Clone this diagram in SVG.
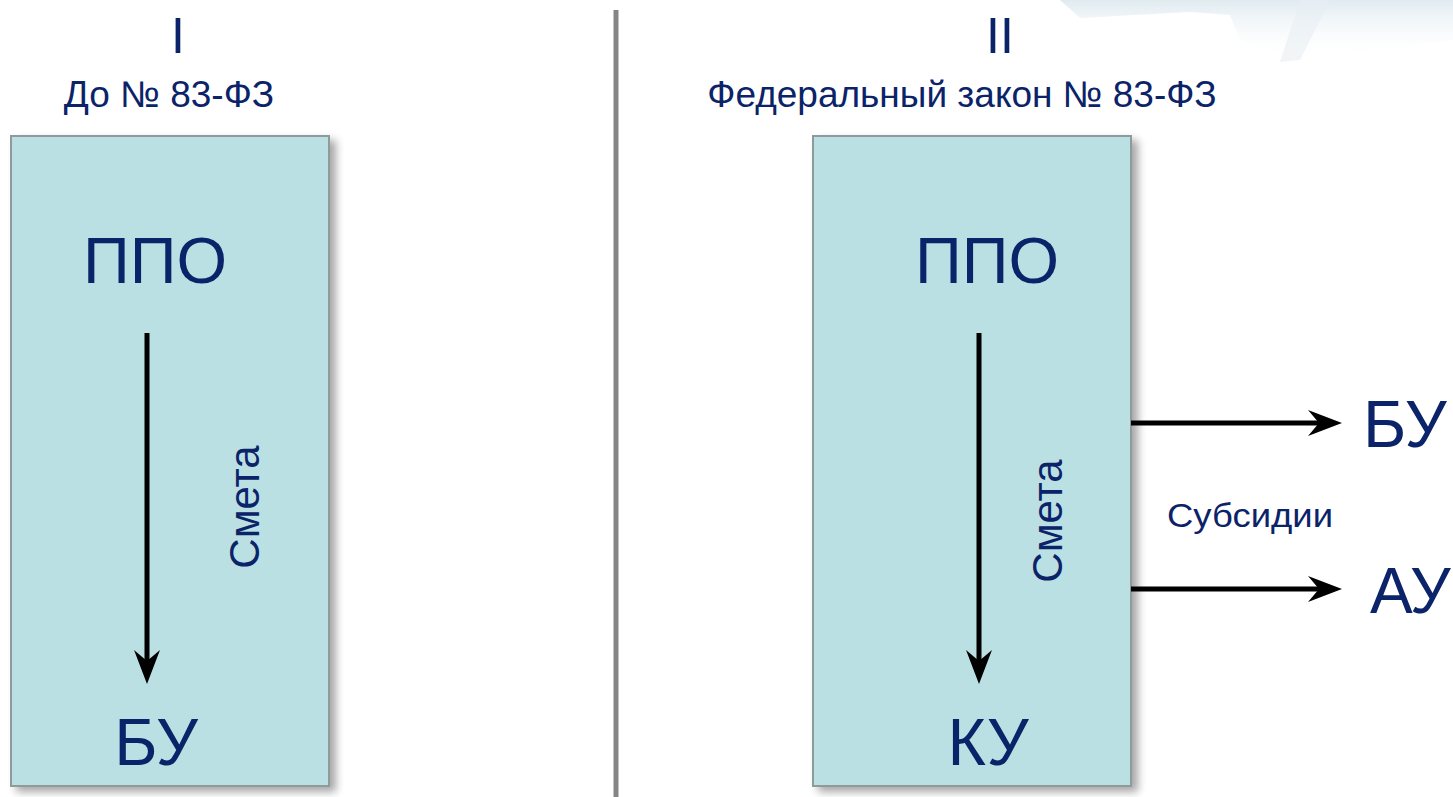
<svg xmlns="http://www.w3.org/2000/svg" width="1453" height="797" viewBox="0 0 1453 797">
<style>
.t{font-family:"Liberation Sans",Arial,sans-serif;fill:#0b2368}
.box{fill:#bae0e3;stroke:#8f9a9b;stroke-width:2}
.ln{stroke:#000;stroke-width:5;fill:none}
</style>
<defs>
<marker id="ah" viewBox="0 0 34 26" refX="20" refY="13" markerWidth="34" markerHeight="26" markerUnits="userSpaceOnUse" orient="auto" overflow="visible">
<path d="M0,0 L34,13 L0,26 L11,13 Z" fill="#000"/>
</marker>
<filter id="sh" x="-10%" y="-10%" width="130%" height="130%">
<feGaussianBlur in="SourceAlpha" stdDeviation="4"/>
<feOffset dx="6" dy="5"/>
<feComponentTransfer><feFuncA type="linear" slope="0.35"/></feComponentTransfer>
<feMerge><feMergeNode/><feMergeNode in="SourceGraphic"/></feMerge>
</filter>
<linearGradient id="deco" x1="0" y1="0" x2="0" y2="1">
<stop offset="0" stop-color="#d2e2ea"/>
<stop offset="1" stop-color="#ffffff" stop-opacity="0"/>
</linearGradient>
</defs>
<rect width="1453" height="797" fill="#fff"/>
<path d="M1060,0 L1453,0 L1453,40 L1300,60 L1240,40 L1230,15 L1190,12 L1080,18 Z" fill="url(#deco)" opacity="0.7"/>
<path d="M1300,0 L1330,0 L1300,60 L1280,62 Z" fill="#e8eff3" opacity="0.6"/>
<line x1="616" y1="10" x2="616" y2="797" stroke="#858585" stroke-width="5"/>
<g id="header1">
<text class="t" x="178" y="53" font-size="50" text-anchor="middle">I</text>
<text class="t" x="169" y="107" font-size="37" text-anchor="middle">До № 83-ФЗ</text>
</g>
<g id="header2">
<text class="t" x="1000" y="53" font-size="50" text-anchor="middle">II</text>
<text class="t" x="962" y="107" font-size="37" text-anchor="middle">Федеральный закон № 83-ФЗ</text>
</g>
<g id="box1">
<rect class="box" x="11" y="136" width="318" height="650" filter="url(#sh)"/>
<text class="t" x="155" y="283" font-size="65" text-anchor="middle">ППО</text>
<text class="t" x="156" y="765" font-size="66" text-anchor="middle">БУ</text>
</g>
<g id="box2">
<rect class="box" x="813" y="136" width="318" height="650" filter="url(#sh)"/>
<text class="t" x="987" y="283" font-size="65" text-anchor="middle">ППО</text>
<text class="t" x="988" y="765" font-size="66" text-anchor="middle">КУ</text>
</g>
<g id="bu">
<text class="t" x="1363" y="447" font-size="66">БУ</text>
</g>
<g id="au">
<text class="t" x="1370" y="613" font-size="64">АУ</text>
</g>
<g id="connectors">
<line class="ln" x1="147" y1="333" x2="147" y2="670" marker-end="url(#ah)"/>
<text class="t" x="0" y="0" font-size="42" text-anchor="middle" transform="translate(259,507) rotate(-90)">Смета</text>
<line class="ln" x1="979" y1="333" x2="979" y2="670" marker-end="url(#ah)"/>
<text class="t" x="0" y="0" font-size="42" text-anchor="middle" transform="translate(1062,521) rotate(-90)">Смета</text>
<line class="ln" x1="1131" y1="423" x2="1328" y2="423" marker-end="url(#ah)"/>
<line class="ln" x1="1131" y1="589" x2="1328" y2="589" marker-end="url(#ah)"/>
<text class="t" x="1250" y="527" font-size="33" text-anchor="middle" textLength="166" lengthAdjust="spacingAndGlyphs">Субсидии</text>
</g>
</svg>
